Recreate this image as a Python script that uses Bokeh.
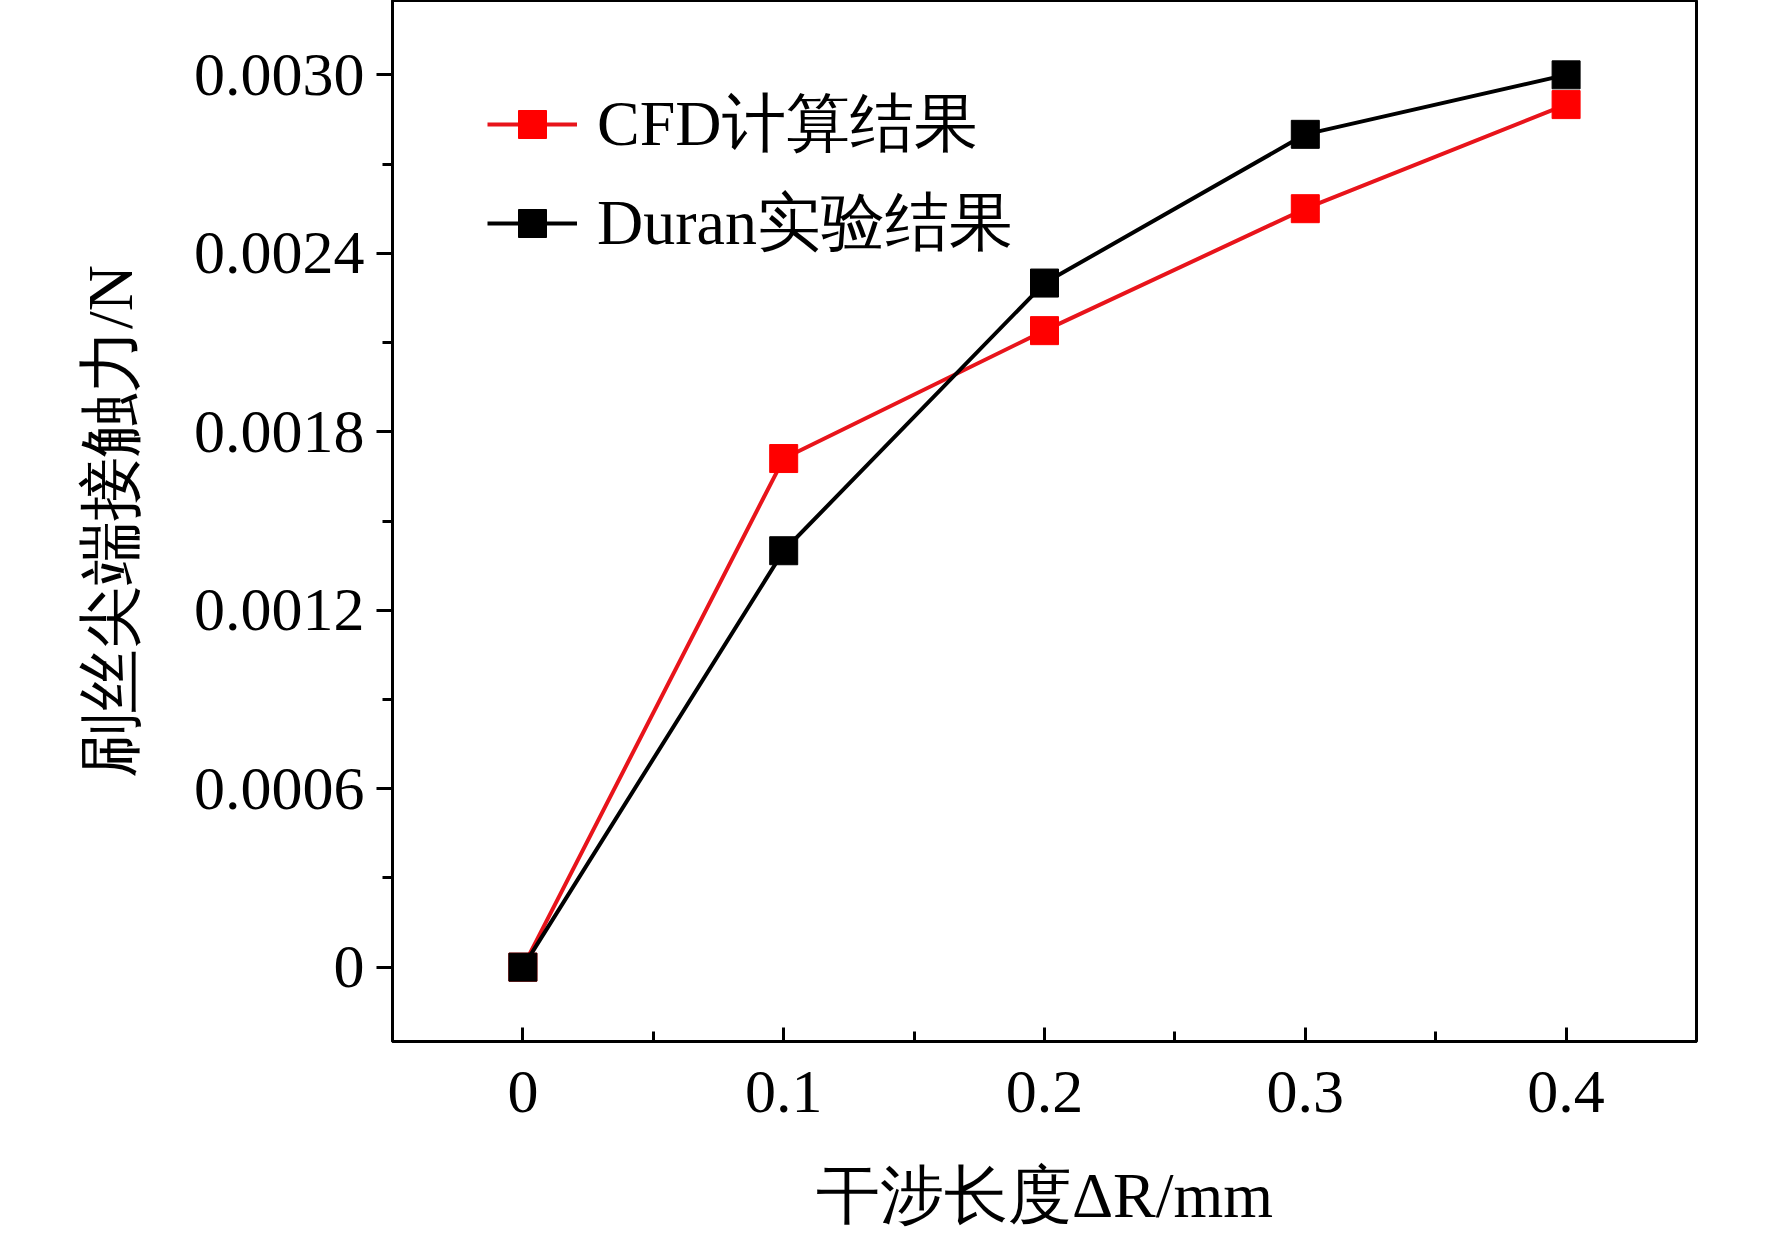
from bokeh.plotting import figure
from bokeh.embed import file_html
from bokeh.resources import INLINE
from bokeh.models import FixedTicker, Legend, LegendItem

x = [0, 0.1, 0.2, 0.3, 0.4]
cfd = [0, 0.00171, 0.00214, 0.00255, 0.0029]
duran = [0, 0.0014, 0.0023, 0.0028, 0.003]
xticks = [0, 0.1, 0.2, 0.3, 0.4]
yticks = [0, 0.0006, 0.0012, 0.0018, 0.0024, 0.0030]
ylabels = {0: "0", 0.0006: "0.0006", 0.0012: "0.0012", 0.0018: "0.0018", 0.0024: "0.0024", 0.0030: "0.0030"}

p = figure(width=1756, height=1233, output_backend="svg", toolbar_location=None,
           x_range=(-0.05, 0.45), y_range=(-0.00025, 0.00325),
           min_border_left=392, min_border_right=60, min_border_top=0, min_border_bottom=188)
p.grid.visible = False
p.outline_line_color = "black"
p.outline_line_width = 3
F = "Liberation Serif"
for ax in (p.xaxis[0], p.yaxis[0]):
    ax.axis_line_width = 3
    ax.major_tick_line_width = 3
    ax.minor_tick_line_width = 3
    ax.major_label_text_font = F
    ax.major_label_text_font_size = "62px"
    ax.major_label_text_color = "black"
    ax.axis_label_text_font = F
    ax.axis_label_text_font_size = "64px"
    ax.axis_label_text_color = "black"
    ax.axis_label_text_font_style = "normal"
p.xaxis.ticker = FixedTicker(ticks=xticks, minor_ticks=[0.05, 0.15, 0.25, 0.35])
p.yaxis.ticker = FixedTicker(ticks=yticks, minor_ticks=[0.0003, 0.0009, 0.0015, 0.0021, 0.0027])
p.yaxis.major_label_overrides = ylabels
p.xaxis.major_label_overrides = {0: "0", 0.1: "0.1", 0.2: "0.2", 0.3: "0.3", 0.4: "0.4"}
p.xaxis.major_tick_in = 14; p.xaxis.major_tick_out = 0
p.xaxis.minor_tick_in = 10; p.xaxis.minor_tick_out = 0
p.yaxis.major_tick_in = 0; p.yaxis.major_tick_out = 16
p.yaxis.minor_tick_in = 0; p.yaxis.minor_tick_out = 10
p.xaxis.major_label_standoff = 30
p.yaxis.major_label_standoff = 12
p.xaxis.axis_label = "干涉长度ΔR/mm"
p.yaxis.axis_label = "刷丝尖端接触力/N"
p.xaxis.axis_label_standoff = 45
p.yaxis.axis_label_standoff = 45

l1 = p.line(x, cfd, line_color="#e8141b", line_width=4)
s1 = p.scatter(x, cfd, marker="square", size=28, fill_color="#ff0000", line_color="#ff0000")
l2 = p.line(x, duran, line_color="black", line_width=4)
s2 = p.scatter(x, duran, marker="square", size=28, fill_color="black", line_color="black")

leg = Legend(items=[LegendItem(label="CFD计算结果", renderers=[l1, s1]),
                    LegendItem(label="Duran实验结果", renderers=[l2, s2])],
             location=(95, 775), border_line_color=None, background_fill_alpha=0,
             label_text_font=F, label_text_font_size="64px", label_text_color="black",
             glyph_width=90, glyph_height=70,
             label_height=70, spacing=12, padding=10, label_standoff=20)
p.add_layout(leg, "center")

open("out.html", "w").write(file_html(p, INLINE))
